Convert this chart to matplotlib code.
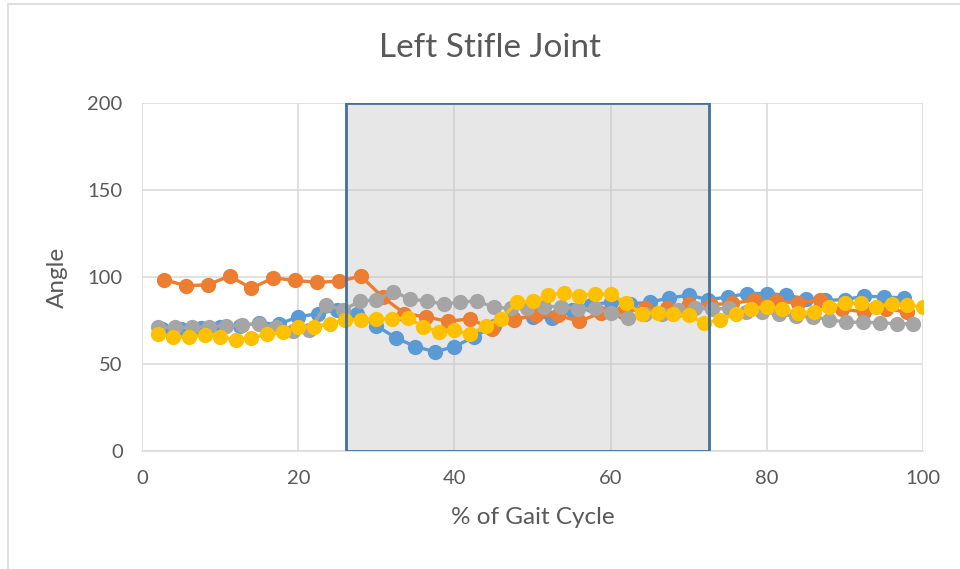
import numpy as np
import matplotlib
matplotlib.use("Agg")
import matplotlib.pyplot as plt
from matplotlib.patches import Rectangle

plt.rcParams['font.family'] = ['Lato', 'DejaVu Sans']

# x positions (% of gait cycle) for each trial, they were sampled at different rates
x_blue = np.linspace(2.5, 97.5, 39)
x_orange = np.linspace(2.8, 98.0, 35)
x_gray = np.linspace(2.09, 98.76, 46)
x_yellow = np.linspace(2.0, 100.0, 50)

blue = [70, 70, 70.5, 71, 72, 73.5, 73, 77, 79, 81,
        79, 72, 65, 60, 57, 60, 65.5, 72, 76.5, 77,
        76.5, 81, 84, 85.5, 84.5, 85.5, 88, 89.5, 87, 88.5,
        90.5, 90.5, 89.5, 87.5, 86.5, 87, 89, 88.5, 88]
orange = [98.5, 95, 95.5, 100.5, 93.5, 99.5, 98, 97, 97.5, 100.5,
          88.5, 79, 77, 74.5, 76, 70, 75.5, 78, 78, 74.5,
          79.5, 80, 82, 82, 84.5, 84, 85, 86.5, 86, 85,
          87, 81.5, 80, 81.5, 80]
gray = [71, 71, 71, 71.5, 72, 72.5, 73, 71, 69, 69.5,
        84, 81, 86, 87, 91.5, 87.5, 86, 84.5, 85.5, 86.3,
        82.5, 82, 82, 83, 83, 81.5, 82, 79.5, 76.5, 78.5,
        78.5, 81, 82, 81.5, 82, 80, 80, 78.5, 77.5, 77,
        75.5, 74, 74, 73.7, 73.2, 73]
yellow = [67.5, 65.5, 65.5, 66.5, 65.5, 64, 65, 67, 68.5, 71,
          71.5, 73, 75.5, 75.5, 76, 76, 76.5, 71.5, 68.5, 69.5,
          67, 72, 76, 85.5, 86, 89.5, 91, 89, 90.5, 90,
          85, 79, 79.5, 78.5, 78, 73.5, 75.5, 78.5, 81.5, 83,
          81.5, 79.5, 80, 82.5, 85, 85, 83, 84.5, 84, 82.5]

# highlighted stance region
shade_start, shade_end = 26.1, 72.6

fig = plt.figure(figsize=(9.6, 5.69), dpi=100)
ax = fig.add_axes([0.148, 0.2074, 0.8135, 0.6116])

# chart border (Excel chart area)
fig.patches.append(Rectangle((8 / 960, -0.1), 1.2, 1.1 - 4 / 569, transform=fig.transFigure,
                             fill=False, edgecolor='#d9d9d9', linewidth=1.2))

ax.add_patch(Rectangle((shade_start, 0), shade_end - shade_start, 200,
                       facecolor='#bfbfbf', alpha=0.36, edgecolor='none', zorder=1.5))
ax.add_patch(Rectangle((shade_start, 0), shade_end - shade_start, 200,
                       facecolor='none', edgecolor='#41719c', linewidth=2, zorder=4))

series = [(x_blue, blue, '#5b9bd5'), (x_orange, orange, '#ed7d31'),
          (x_gray, gray, '#a5a5a5'), (x_yellow, yellow, '#ffc000')]
for i, (xs, ys, c) in enumerate(series):
    ax.plot(xs, ys, color=c, linewidth=2.4, marker='o', markersize=11,
            markeredgewidth=0, zorder=2 + i * 0.1)

ax.set_xlim(0, 100)
ax.set_ylim(0, 200)
ax.set_xticks(range(0, 101, 20))
ax.set_yticks(range(0, 201, 50))
ax.grid(True, color='#d9d9d9', linewidth=1.1, zorder=1)
ax.set_axisbelow(True)
for s in ['left', 'right', 'top']:
    ax.spines[s].set_visible(False)
ax.spines['bottom'].set_color('#d9d9d9')
ax.spines['bottom'].set_linewidth(1.1)
ax.tick_params(length=0, labelsize=14.5, labelcolor='#595959', pad=14)

fig.text(490 / 960, 1 - 48 / 569, 'Left Stifle Joint', fontsize=24, color='#595959',
         ha='center', va='center')
ax.set_xlabel('% of Gait Cycle', fontsize=17.5, color='#595959', labelpad=14)
ax.set_ylabel('Angle', fontsize=17.5, color='#595959', labelpad=14)

fig.savefig('out.png', dpi=100)
